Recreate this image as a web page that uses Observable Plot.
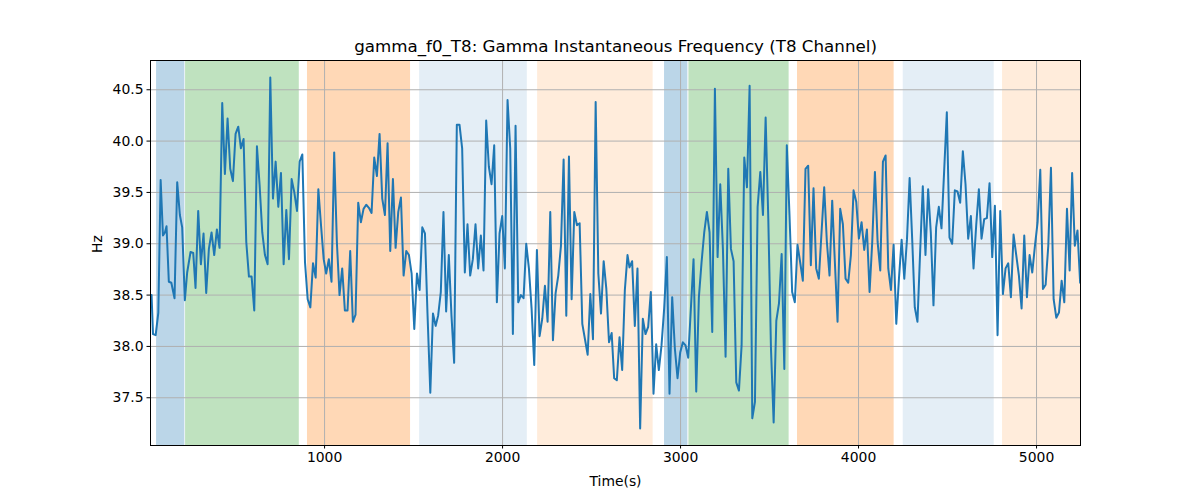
<!DOCTYPE html>
<html>
<head>
<meta charset="utf-8">
<script src="https://cdn.jsdelivr.net/npm/d3@7"></script>
<script src="https://cdn.jsdelivr.net/npm/@observablehq/plot@0.6"></script>
<style>
  html, body { margin: 0; padding: 0; background: #fff; }
  #chart { width: 1200px; height: 500px; }
</style>
</head>
<body>
<div id="chart"></div>
<script>
const titleText = "gamma_f0_T8: Gamma Instantaneous Frequency (T8 Channel)";
const xLabel = "Time(s)";
const yLabel = "Hz";
const xTicks = [1000, 2000, 3000, 4000, 5000];
const yTicks = [37.5, 38.0, 38.5, 39.0, 39.5, 40.0, 40.5];

const times = [
  28,36,51,66,79,92,103,112,125,139,157,172,187,200,215,228,247,262,275,290,305,320,335,350,365,380,395,410,425,440,455,470,485,500,515,530,545,560,575,590,605,620,635,650,665,680,695,
  710,725,740,755,770,785,800,815,830,845,860,875,890,905,920,935,950,965,980,995,1009,1024,1039,1054,1069,1084,1099,1114,1129,1144,1159,1174,1189,1204,1219,1234,1249,1264,1279,1294,1309,1324,1339,1354,
  1369,1384,1399,1414,1429,1444,1459,1474,1489,1504,1519,1534,1549,1564,1578,1594,1609,1624,1638,1653,1668,1683,1698,1713,1728,1743,1758,1773,1788,1803,1818,1833,1848,1863,1878,1893,1908,1923,1938,1953,1968,1983,1998,2013,2028,
  2043,2058,2073,2088,2103,2118,2133,2148,2163,2178,2193,2208,2223,2238,2253,2268,2283,2298,2313,2328,2343,2358,2373,2388,2403,2418,2433,2448,2463,2478,2493,2508,2523,2538,2553,2568,2583,2598,2613,2627,2642,2657,2672,2687,2702,
  2713,2728,2743,2758,2773,2788,2803,2818,2833,2848,2863,2878,2893,2908,2923,2938,2953,2968,2983,2998,3013,3028,3043,3058,3073,3088,3103,3118,3133,3148,3163,3178,3193,3208,3223,3238,3253,3268,3283,3298,3313,3328,3343,3358,3373,3388,
  3403,3418,3433,3448,3463,3478,3493,3508,3523,3538,3553,3568,3583,3597,3612,3627,3642,3657,3672,3687,3702,3717,3732,3747,3762,3777,3792,3807,3822,3837,3852,3867,3882,3897,3912,3927,3942,3957,3972,3987,4002,4017,4032,4047,4062,
  4077,4092,4107,4122,4137,4152,4167,4182,4197,4212,4227,4242,4257,4272,4287,4302,4316,4331,4346,4361,4376,4391,4406,4421,4436,4451,4466,4481,4496,4511,4526,4541,4556,4571,4586,4601,4616,4631,4646,4661,4676,4691,4706,4721,4736,
  4751,4766,4781,4796,4811,4826,4841,4856,4871,4886,4901,4916,4931,4946,4961,4976,4991,5006,5021,5036,5051,5066,5081,5096,5111,5126,5141,5156,5171,5186,5200,5215,5230,5245
];

const hz = [
  38.50,38.12,38.11,38.33,39.62,39.08,39.11,39.17,38.63,38.62,38.47,39.60,39.28,39.16,38.45,38.72,38.92,38.91,38.57,39.32,38.80,39.10,38.52,38.95,39.11,38.89,39.14,38.96,40.37,39.68,40.22,39.73,39.61,40.07,40.14,39.93,40.02,39.02,38.68,38.68,38.35,39.95,39.57,39.11,38.89,38.80,40.62,
  39.44,39.80,39.36,39.69,38.80,39.33,38.85,39.63,39.50,39.32,39.80,39.87,38.82,38.46,38.38,38.81,38.67,39.53,39.18,38.85,38.71,38.85,38.63,39.89,39.02,38.50,38.76,38.35,38.35,38.93,38.24,38.31,39.40,39.21,39.34,39.38,39.35,39.30,39.84,39.66,40.07,39.44,39.28,39.98,
  38.93,39.63,38.96,39.31,39.45,38.69,38.93,38.89,38.71,38.17,38.71,38.55,39.16,39.10,38.33,37.55,38.32,38.20,38.30,38.53,39.31,38.34,38.89,38.30,37.84,40.16,40.16,39.93,38.72,39.19,38.69,38.85,39.19,38.76,39.08,38.74,40.20,39.75,39.58,39.96,38.43,39.10,39.27,38.76,40.40,
  39.93,38.12,40.15,38.43,38.50,38.47,39.00,38.76,38.37,37.82,38.94,38.10,38.27,38.59,38.24,39.31,38.06,38.52,38.69,38.98,39.82,38.30,39.85,38.46,39.31,39.18,39.20,38.22,38.07,37.92,38.51,38.07,40.38,38.71,38.32,38.83,38.56,38.04,38.13,37.69,37.67,38.09,37.77,38.55,38.89,
  38.77,38.83,38.20,38.76,37.20,38.27,38.12,38.19,38.53,37.54,38.02,37.77,38.01,38.37,38.87,37.54,38.48,37.98,37.69,37.94,38.04,38.01,37.89,38.37,38.85,37.56,38.48,38.82,39.11,39.31,39.11,38.14,40.51,38.87,39.58,38.95,37.90,39.73,38.95,38.83,37.65,37.57,38.01,39.84,39.55,40.54,
  37.30,37.46,39.36,39.70,39.28,40.23,39.24,37.98,37.26,38.25,38.42,38.90,37.78,39.96,39.28,38.53,38.43,38.99,38.82,38.64,39.73,39.76,38.79,39.54,38.76,38.66,39.11,39.55,39.02,38.69,39.42,38.82,38.24,39.34,39.19,38.66,38.62,38.89,39.52,39.41,39.05,39.21,38.94,39.14,38.53,
  39.02,39.70,39.02,38.74,39.80,39.86,38.76,38.55,38.99,38.22,38.66,39.04,38.66,39.04,39.64,39.02,38.38,38.24,38.92,39.56,38.89,39.53,39.11,38.40,39.16,39.36,39.15,39.71,40.28,39.06,39.00,39.52,39.51,39.40,39.90,39.58,39.05,39.27,38.76,39.18,39.53,39.05,39.24,39.25,39.59,
  38.87,39.37,38.11,39.32,38.51,38.76,38.81,38.48,39.09,38.89,38.69,38.37,39.08,38.48,38.89,38.72,38.98,39.21,39.72,38.56,38.60,38.98,39.74,38.46,38.28,38.33,38.64,38.43,39.34,38.74,39.69,38.98,39.13,38.62
];

const spanStart = [56, 219, 904, 1534, 2197, 2910, 3047, 3657, 4251, 4809];
const spanEnd   = [215, 858, 1483, 2139, 2846, 3041, 3610, 4200, 4762, 5247];
const spanKind  = ["blue", "green", "orange", "lightblue", "lightorange", "blue", "green", "orange", "lightblue", "lightorange"];

const kindFill = {
  blue: ["#1f77b4", 0.3],
  green: ["#2ca02c", 0.3],
  orange: ["#ff7f0e", 0.3],
  lightblue: ["#1f77b4", 0.12],
  lightorange: ["#ff7f0e", 0.15]
};

const series = times.map((t, i) => ({t, v: hz[i]}));
const spans = spanStart.map((s, i) => ({x1: s, x2: spanEnd[i], kind: spanKind[i]}));

const font = "DejaVu Sans, sans-serif";

const spanMarks = Object.keys(kindFill).map(k =>
  Plot.rect(spans.filter(d => d.kind === k), {
    x1: "x1", x2: "x2",
    fill: kindFill[k][0], fillOpacity: kindFill[k][1]
  })
);

const chart = Plot.plot({
  width: 1200,
  height: 500,
  marginLeft: 150,
  marginRight: 120,
  marginTop: 60,
  marginBottom: 55,
  style: {fontFamily: font, fontSize: "13.9px", background: "#fff", color: "#000"},
  x: {domain: [22, 5247], ticks: xTicks, tickFormat: d3.format("d"), label: null},
  y: {domain: [37.035, 40.785], ticks: yTicks, tickFormat: d3.format(".1f"), label: null},
  marks: [
    ...spanMarks,
    Plot.gridX(xTicks, {stroke: "#b0b0b0", strokeOpacity: 1, strokeWidth: 1}),
    Plot.gridY(yTicks, {stroke: "#b0b0b0", strokeOpacity: 1, strokeWidth: 1}),
    Plot.line(series, {x: "t", y: "v", stroke: "#1f77b4", strokeWidth: 2, clip: true}),
    Plot.axisX(xTicks, {tickSize: 3.5, tickPadding: 3.5, fontSize: 13.9, tickFormat: d3.format("d"), label: null}),
    Plot.axisY(yTicks, {tickSize: 3.5, tickPadding: 3.5, fontSize: 13.9, tickFormat: d3.format(".1f"), label: null}),
    Plot.frame({stroke: "#000", strokeWidth: 1}),
    Plot.text([titleText], {frameAnchor: "top", lineAnchor: "middle", dy: -14, fontSize: 16.7, fill: "#000"}),
    Plot.text([xLabel], {frameAnchor: "bottom", lineAnchor: "middle", dy: 36, fontSize: 13.9, fill: "#000"}),
    Plot.text([yLabel], {frameAnchor: "left", lineAnchor: "middle", dx: -53, rotate: -90, fontSize: 13.9, fill: "#000"})
  ]
});

document.getElementById("chart").appendChild(chart);
</script>
</body>
</html>
